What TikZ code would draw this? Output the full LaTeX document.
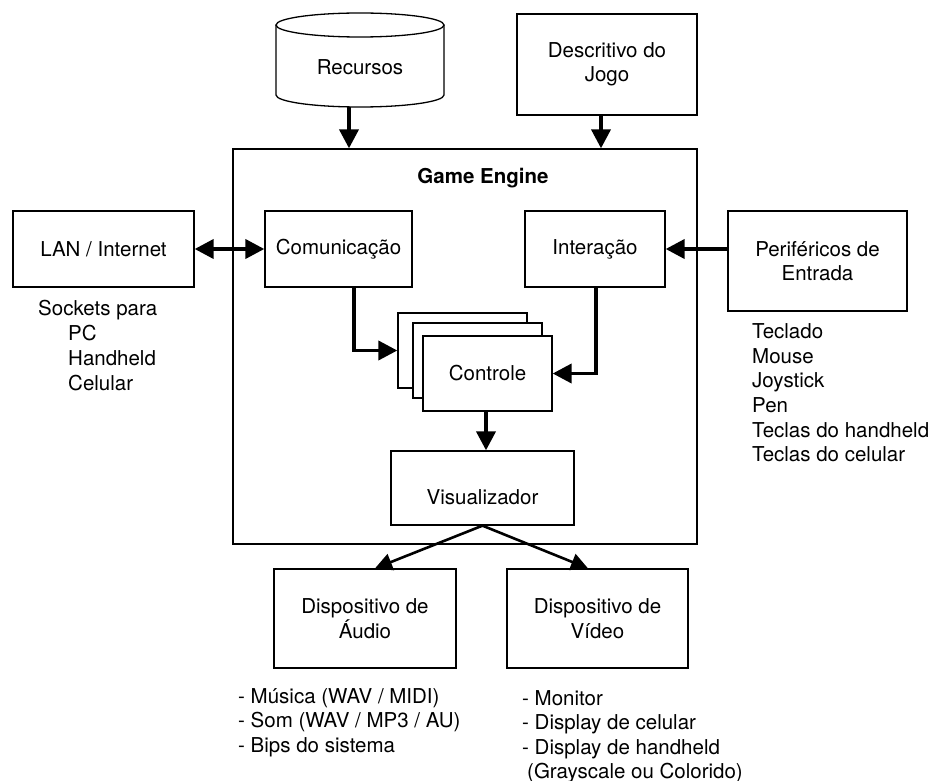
\documentclass[tikz,border=0pt]{standalone}
\usepackage{fontspec}
\setmainfont{TeX Gyre Heros}
\usetikzlibrary{arrows.meta}
\begin{document}
\begin{tikzpicture}[x=1pt,y=-1pt,
  font=\fontsize{20.5}{24.5}\selectfont,
  box/.style={draw, line width=1.3pt, inner sep=0pt, align=center, fill=white},
  lbl/.style={anchor=base west, inner sep=0pt},
  big/.style={line width=3.8pt, -{Triangle[length=19pt,width=19pt]}},
  bigboth/.style={line width=3.8pt, {Triangle[length=19pt,width=19pt]}-{Triangle[length=19pt,width=19pt]}},
  diag/.style={line width=2.6pt, -{Triangle[length=17pt,width=17pt]}}]
\useasboundingbox (0,0) rectangle (937,781);

% Recursos (cylinder)
\node[inner sep=0pt, minimum width=168pt, minimum height=94pt] (rec) at (360,60) {};
\draw[line width=1.3pt, fill=white] (276,25) -- (276,95) arc[start angle=180, end angle=0, x radius=84, y radius=12] -- (444,25);
\draw[line width=1.3pt] (360,25) ellipse [x radius=84, y radius=12];
\node (recT) at (360,67) {Recursos};

% Descritivo do Jogo
\node[box, minimum width=180pt, minimum height=101pt] (desc) at (607,64.5) {Descritivo do\\Jogo};

% Game Engine
\node[box, minimum width=464pt, minimum height=395pt] (ge) at (465,346.5) {};
\node[font=\fontsize{20.5}{24.5}\selectfont\bfseries] (geT) at (483,178) {Game Engine};

% Boxes inside and around
\node[box, minimum width=181pt, minimum height=76pt] (lan) at (103.5,249) {LAN / Internet};
\node[box, minimum width=147pt, minimum height=76pt] (com) at (338.5,249) {Comunicação};
\node[box, minimum width=140pt, minimum height=76pt] (int) at (595,249) {Interação};
\node[box, minimum width=179pt, minimum height=100pt] (per) at (817.5,261) {Periféricos de\\Entrada};

% Controle stack
\node[box, minimum width=129pt, minimum height=75pt] (ctrlA) at (462.5,350.5) {};
\node[box, minimum width=129pt, minimum height=75pt] (ctrlB) at (477.5,360.5) {};
\node[box, minimum width=129pt, minimum height=75pt] (ctrlC) at (487.5,373.5) {Controle};

% Visualizador
\node[box, minimum width=183pt, minimum height=74pt] (vis) at (482.5,488) {};
\node (visT) at (482.5,497) {Visualizador};

% Output devices
\node[box, minimum width=182pt, minimum height=99pt] (aud) at (365,618.5) {Dispositivo de\\Áudio};
\node[box, minimum width=181pt, minimum height=99pt] (vid) at (597.5,618.5) {Dispositivo de\\Vídeo};

% Arrows
\draw[big] (rec.south) ++(-11,0) coordinate (recS) -- (recS |- ge.north);
\draw[big] ([xshift=-6pt]desc.south) -- ([xshift=-6pt]desc.south |- ge.north);
\draw[bigboth] (lan.east) -- (com.west);
\draw[big] (per.west |- int.east) -- (int.east);
\draw[big] ([xshift=15.5pt]com.south) |- (ctrlA.west);
\draw[big] ([xshift=1pt]int.south) |- (ctrlC.east);
\draw[big] ([xshift=-1.5pt]ctrlC.south) -- ([xshift=-1.5pt]ctrlC.south |- vis.north);
\draw[diag] (vis.south) -- ([xshift=10pt]aud.north);
\draw[diag] (vis.south) -- ([xshift=-9.5pt]vid.north);

% Lists
\node[lbl] (s1) at (38,315) {Sockets para};
\node[lbl] (s2) at (68,340) {PC};
\node[lbl] (s3) at (68,365) {Handheld};
\node[lbl] (s4) at (68,390) {Celular};

\node[lbl] (p1) at (752,338) {Teclado};
\node[lbl] (p2) at (752,363) {Mouse};
\node[lbl] (p3) at (752,387) {Joystick};
\node[lbl] (p4) at (752,412) {Pen};
\node[lbl] (p5) at (752,437) {Teclas do handheld};
\node[lbl] (p6) at (752,461) {Teclas do celular};

\node[lbl] (a1) at (238,703) {- Música (WAV / MIDI)};
\node[lbl] (a2) at (238,727) {- Som (WAV / MP3 / AU)};
\node[lbl] (a3) at (238,752) {- Bips do sistema};

\node[lbl] (v1) at (522,705) {- Monitor};
\node[lbl] (v2) at (522,729) {- Display de celular};
\node[lbl] (v3) at (522,754) {- Display de handheld};
\node[lbl] (v4) at (527,778) {(Grayscale ou Colorido)};
\end{tikzpicture}
\end{document}
